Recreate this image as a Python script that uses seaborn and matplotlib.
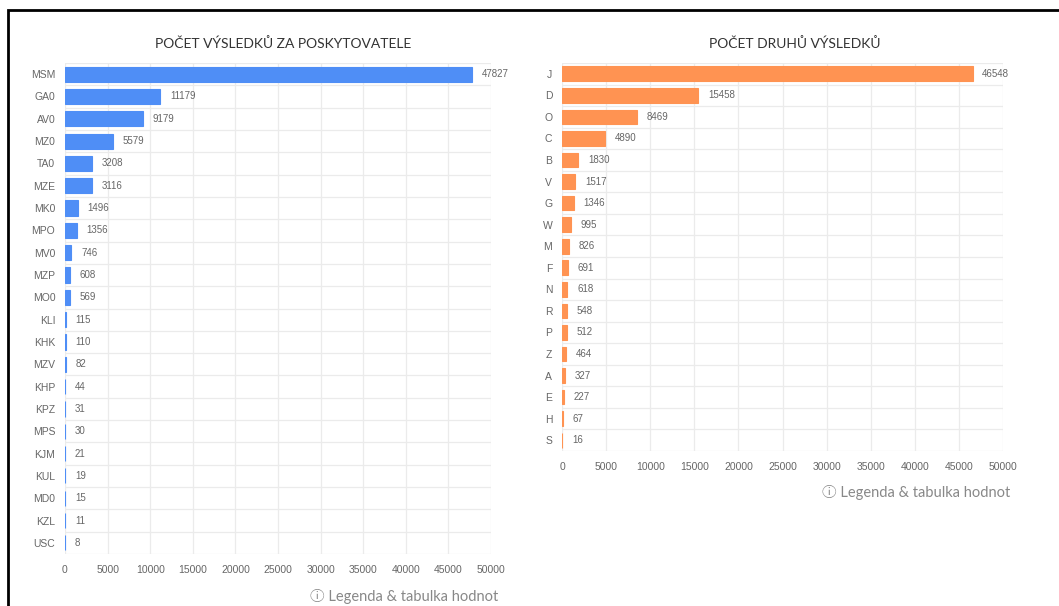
import matplotlib
matplotlib.use("Agg")
import matplotlib.pyplot as plt
import seaborn as sns
from matplotlib.patches import Rectangle
from matplotlib.ticker import FixedLocator

# --- Data ---
providers = ["MSM", "GA0", "AV0", "MZ0", "TA0", "MZE", "MK0", "MPO", "MV0", "MZP", "MO0",
             "KLI", "KHK", "MZV", "KHP", "KPZ", "MPS", "KJM", "KUL", "MD0", "KZL", "USC"]
provider_counts = [47827, 11179, 9179, 5579, 3208, 3116, 1496, 1356, 746, 608, 569,
                   115, 110, 82, 44, 31, 30, 21, 19, 15, 11, 8]

result_types = ["J", "D", "O", "C", "B", "V", "G", "W", "M", "F", "N", "R", "P", "Z",
                "A", "E", "H", "S"]
result_type_counts = [46548, 15458, 8469, 4890, 1830, 1517, 1346, 995, 826, 691, 618,
                      548, 512, 464, 327, 227, 67, 16]

x_ticks = list(range(0, 50001, 5000))
titles = ["POČET VÝSLEDKŮ ZA POSKYTOVATELE", "POČET DRUHŮ VÝSLEDKŮ"]
footer = "ⓘ Legenda & tabulka hodnot"

BLUE = "#4f8ef6"
ORANGE = "#ff9352"
TEXT = "#666666"
GRID = "#ebebeb"

sns.set_style("white")
plt.rcParams["font.family"] = ["Liberation Sans", "DejaVu Sans"]
TITLE_FONT = ["Lato", "Noto Sans CJK SC", "DejaVu Sans"]

W, H = 1059, 606
fig = plt.figure(figsize=(W / 100, H / 100), dpi=100)


def px_axes(left, right, top, bottom):
    return fig.add_axes([left / W, 1 - bottom / H, (right - left) / W, (bottom - top) / H])


def draw_panel(ax, cats, vals, color, title, title_x, footer_y):
    sns.barplot(x=vals, y=cats, color=color, ax=ax, orient="h", width=0.68,
                edgecolor=color, linewidth=0.8, saturation=1)
    n = len(cats)
    ax.set_xlim(0, 50000)
    ax.set_ylim(n - 0.5, -0.5)
    ax.set_xticks(x_ticks)
    ax.set_xticklabels([str(t) for t in x_ticks])
    ax.yaxis.set_minor_locator(FixedLocator([i - 0.5 for i in range(n + 1)]))
    ax.grid(axis="x", color=GRID, linewidth=0.9)
    ax.grid(axis="y", which="minor", color=GRID, linewidth=0.9)
    ax.set_axisbelow(True)
    for s in ax.spines.values():
        s.set_visible(False)
    ax.tick_params(axis="both", which="both", length=0, colors=TEXT, labelsize=7.5)
    ax.tick_params(axis="x", pad=8)
    ax.tick_params(axis="y", pad=7)
    ax.set_xlabel("")
    ax.set_ylabel("")
    ax.bar_label(ax.containers[0], labels=[str(v) for v in vals], padding=7,
                 color=TEXT, fontsize=7)
    fig.text(title_x / W, 1 - 44 / H, title, ha="center", va="center",
             fontsize=10, color="#333333", family=TITLE_FONT)
    x1 = ax.get_position().x1 + 7 / W
    fig.text(x1, 1 - footer_y / H, footer, ha="right", va="center",
             fontsize=10.5, color="#888888", family=TITLE_FONT)


ax1 = px_axes(65, 491, 63, 554)
draw_panel(ax1, providers, provider_counts, BLUE, titles[0], 283, 597)

ax2 = px_axes(562, 1003, 63, 451)
draw_panel(ax2, result_types, result_type_counts, ORANGE, titles[1], 795, 493)

# outer frame as in the screenshot
fig.patches.append(Rectangle((8 / W, -0.1), 1.2, 1 - 10 / H + 0.1, transform=fig.transFigure,
                             fill=False, edgecolor="black", linewidth=2))

fig.savefig("out.png", dpi=100)
